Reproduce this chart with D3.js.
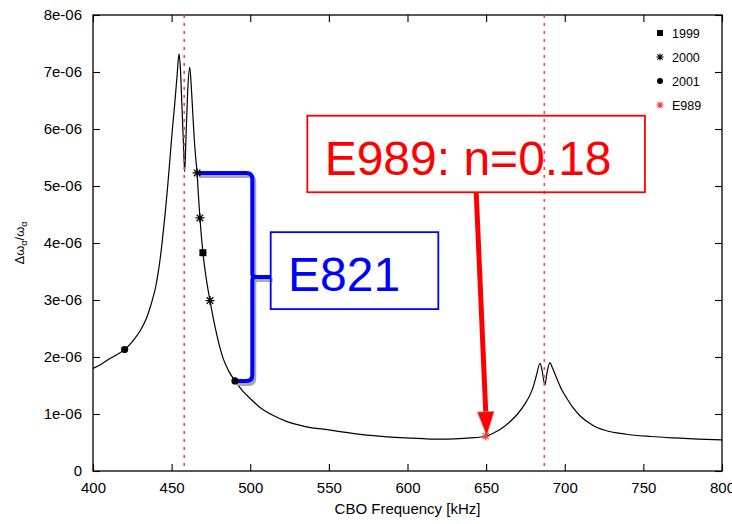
<!DOCTYPE html>
<html><head><meta charset="utf-8">
<script src="https://cdn.jsdelivr.net/npm/d3@7"></script>
<style>html,body{margin:0;padding:0;background:#fff}svg{display:block}</style>
</head><body><svg id="c" width="732" height="524"></svg>
<script>
// ---- data (values in units of 1e-6) ----
const curveFreq = [400,405,410,415,420.1,425,430,434,437,440,442,444,446,447.5,449,450.5,452,453.5,454.7,455.6,456.5,457.5,458.3,459.2,460.2,461.5,462.5,463.5,464.4,465.3,466.2,467,468,469.9,472,474.4,478,482.7,486,490.3,495,500,506,515,523,535,550,565,580,595,610,620,630,640,649.7,655,660,665,670,675,678,680,682,684.3,685.6,687.4,688.8,690.6,692,695,698,701,705,710,718,725,739,755,770,785,800];
const curveVal  = [1.80,1.87,1.96,2.04,2.13,2.27,2.46,2.68,2.93,3.25,3.58,4.02,4.55,5.0,5.5,6.0,6.45,6.95,7.32,7.05,6.45,5.75,5.25,5.9,6.65,7.08,6.75,6.25,5.82,5.5,5.23,4.85,4.44,3.83,3.38,2.99,2.48,1.98,1.77,1.58,1.41,1.27,1.12,0.97,0.87,0.78,0.72,0.66,0.615,0.585,0.567,0.56,0.565,0.58,0.61,0.67,0.75,0.86,1.00,1.19,1.34,1.48,1.68,1.89,1.76,1.51,1.74,1.90,1.82,1.62,1.43,1.29,1.12,0.96,0.80,0.72,0.645,0.605,0.58,0.56,0.545];

const m1999Freq = [469.9],              m1999Val = [3.83];
const m2000Freq = [466.2, 468.0, 474.4], m2000Val = [5.23, 4.44, 2.99];
const m2001Freq = [420.1, 490.3],        m2001Val = [2.13, 1.58];
const e989Freq  = [649.7],               e989Val  = [0.61];

const resonanceFreq = [458, 687];

const xTicks = [400,450,500,550,600,650,700,750,800];
const yTicks = [0,1,2,3,4,5,6,7,8];
const yTickLabels = ["0","1e-06","2e-06","3e-06","4e-06","5e-06","6e-06","7e-06","8e-06"];
const legendLabels = ["1999","2000","2001","E989"];

const e821Label = "E821";
const e989Label = "E989: n=0.18";

// ---- layout ----
const svg = d3.select("#c");
const L = 93, R = 722, T = 15, B = 471;
const x = d3.scaleLinear().domain([400, 800]).range([L, R]);
const y = d3.scaleLinear().domain([0, 8]).range([B, T]);
const FONT = "'Liberation Sans', Arial, Helvetica, sans-serif";
const RED = "#ff0000", BLUE = "#0000ff", DASH = "#ee4a4a";

function styleAxis(g, fs) {
  g.select(".domain").remove();
  g.selectAll("line").attr("stroke", "#000").attr("stroke-width", 1.1);
  g.selectAll("text").attr("font-family", FONT).attr("font-size", fs).attr("fill", "#000");
}
svg.append("g").attr("transform", `translate(0,${B})`)
  .call(d3.axisBottom(x).tickValues(xTicks).tickSize(-7).tickPadding(11).tickFormat(d3.format("d")))
  .call(g => styleAxis(g, 15));
svg.append("g").attr("transform", `translate(0,${T})`)
  .call(d3.axisTop(x).tickValues(xTicks).tickSize(-7).tickFormat(""))
  .call(g => styleAxis(g, 15));
svg.append("g").attr("transform", `translate(${L},0)`)
  .call(d3.axisLeft(y).tickValues(yTicks).tickSize(-7).tickPadding(11).tickFormat((d, i) => yTickLabels[i]))
  .call(g => styleAxis(g, 15));
svg.append("g").attr("transform", `translate(${R},0)`)
  .call(d3.axisRight(y).tickValues(yTicks).tickSize(-7).tickFormat(""))
  .call(g => styleAxis(g, 15));

svg.append("rect").attr("x", L).attr("y", T).attr("width", R - L).attr("height", B - T)
  .attr("fill", "none").attr("stroke", "#000").attr("stroke-width", 1.3);

svg.append("text").attr("x", (L + R) / 2).attr("y", 514).attr("text-anchor", "middle")
  .attr("font-family", FONT).attr("font-size", 15).text("CBO Frequency [kHz]");
const yt = svg.append("text").attr("transform", `translate(24,${(T + B) / 2}) rotate(-90)`)
  .attr("text-anchor", "middle").attr("font-family", FONT).attr("font-size", 13);
yt.append("tspan").text("Δω");
yt.append("tspan").attr("font-size", 9).attr("dy", 3).text("α");
yt.append("tspan").attr("dy", -3).text("/ω");
yt.append("tspan").attr("font-size", 9).attr("dy", 3).text("α");

const pts = curveFreq.map((f, i) => [f, curveVal[i]]);
svg.append("path").datum(pts)
  .attr("d", d3.line().x(d => x(d[0])).y(d => y(d[1])).curve(d3.curveMonotoneX))
  .attr("fill", "none").attr("stroke", "#000").attr("stroke-width", 1.2);

svg.selectAll(".res").data(resonanceFreq).join("line")
  .attr("x1", d => x(d)).attr("x2", d => x(d)).attr("y1", T).attr("y2", B)
  .attr("stroke", DASH).attr("stroke-width", 1.6).attr("stroke-dasharray", "3,5");

// E821 bracket
const bx = x(501.3), yTop = y(m2000Val[0]), yBot = y(m2001Val[1]);
const x0 = x(m2000Freq[0]), x1 = x(m2001Freq[1]);
const ym = (yTop + yBot) / 2;
const boxL = x(513), boxR = x(619.6), boxT = y(4.19), boxB = y(2.84);
const rr = 6;
const brPath = `M${x0},${yTop} H${bx - rr} Q${bx},${yTop} ${bx},${yTop + rr} V${ym - 3} Q${bx},${ym} ${bx + 4},${ym} H${boxL} M${bx + 4},${ym} Q${bx},${ym} ${bx},${ym + 3} V${yBot - rr} Q${bx},${yBot} ${bx - rr},${yBot} H${x1}`;
svg.append("path").attr("d", brPath).attr("transform", "translate(2,3)")
  .attr("fill", "none").attr("stroke", "#a8a8a8").attr("stroke-width", 4);
svg.append("path").attr("d", brPath)
  .attr("fill", "none").attr("stroke", BLUE).attr("stroke-width", 4);
svg.append("rect").attr("x", boxL).attr("y", boxT).attr("width", boxR - boxL).attr("height", boxB - boxT)
  .attr("fill", "none").attr("stroke", BLUE).attr("stroke-width", 1.8);
svg.append("text").attr("x", x(524)).attr("y", y(3.163))
  .attr("font-family", FONT).attr("font-size", 48).attr("fill", BLUE).text(e821Label);

// E989 box + arrow
const eL = x(536.3), eR = x(751), eT = y(6.233), eB = y(4.89);
svg.append("rect").attr("x", eL).attr("y", eT).attr("width", eR - eL).attr("height", eB - eT)
  .attr("fill", "none").attr("stroke", RED).attr("stroke-width", 1.8);
svg.append("text").attr("x", x(547.3)).attr("y", y(5.19))
  .attr("font-family", FONT).attr("font-size", 48).attr("fill", RED).text(e989Label);

const ax0 = x(643.7), ay0 = eB, ax1 = x(650.4), ay1 = y(0.62);
const dx = ax1 - ax0, dy = ay1 - ay0, len = Math.hypot(dx, dy);
const ux = dx / len, uy = dy / len, px = -uy, py = ux;
const hl = 24, hw = 8.5;
const bxh = ax1 - ux * hl, byh = ay1 - uy * hl;
svg.append("line").attr("x1", ax0).attr("y1", ay0).attr("x2", bxh + ux * 2).attr("y2", byh + uy * 2)
  .attr("stroke", RED).attr("stroke-width", 5);
const head = [[ax1, ay1], [bxh + px * hw, byh + py * hw], [bxh - px * hw, byh - py * hw]];
svg.append("polygon").attr("points", head.map(p => p.join(",")).join(" "))
  .attr("fill", RED).attr("stroke", "#b0a0a0").attr("stroke-width", 0.8);

// markers
const starPath = "M-4.5,0H4.5M0,-4.5V4.5M-3.3,-3.3L3.3,3.3M-3.3,3.3L3.3,-3.3";
function square(g, cx, cy, s) { g.append("rect").attr("x", cx - s / 2).attr("y", cy - s / 2).attr("width", s).attr("height", s).attr("fill", "#000"); }
function star(g, cx, cy, col, sc) { g.append("path").attr("d", starPath).attr("transform", `translate(${cx},${cy}) scale(${sc})`).attr("stroke", col).attr("stroke-width", 1.3).attr("fill", "none"); }
function dot(g, cx, cy, r) { g.append("circle").attr("cx", cx).attr("cy", cy).attr("r", r).attr("fill", "#000"); }

const mk = svg.append("g");
m1999Freq.forEach((f, i) => square(mk, x(f), y(m1999Val[i]), 7));
m2000Freq.forEach((f, i) => star(mk, x(f), y(m2000Val[i]), "#000", 1));
m2001Freq.forEach((f, i) => dot(mk, x(f), y(m2001Val[i]), 3.6));
e989Freq.forEach((f, i) => star(mk, x(f), y(e989Val[i]), "#f03c3c", 0.9));

// legend
const legY = [33, 57, 81, 105];
const lg = svg.append("g");
legendLabels.forEach((lab, i) => {
  const cy = legY[i], cx = 660;
  if (i === 0) square(lg, cx, cy, 6);
  if (i === 1) star(lg, cx, cy, "#000", 0.8);
  if (i === 2) dot(lg, cx, cy, 3);
  if (i === 3) star(lg, cx, cy, "#f03c3c", 0.8);
  lg.append("text").attr("x", 672).attr("y", cy + 4.5).attr("font-family", FONT).attr("font-size", 12.5).text(lab);
});
</script></body></html>
